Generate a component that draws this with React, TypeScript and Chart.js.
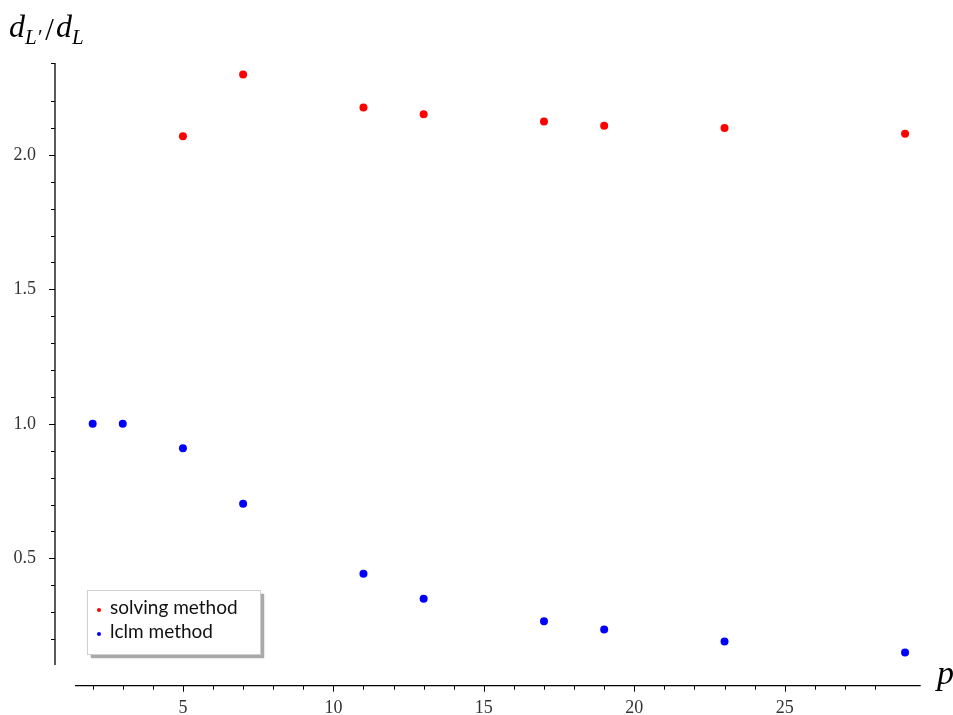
import React, { useEffect, useRef } from "react";
import { Chart, registerables } from "chart.js";

Chart.register(...registerables);

// ---- data ----
const solvingP = [5, 7, 11, 13, 17, 19, 23, 29];
const solvingRatio = [2.069, 2.299, 2.176, 2.151, 2.124, 2.108, 2.1, 2.079];
const lclmP = [2, 3, 5, 7, 11, 13, 17, 19, 23, 29];
const lclmRatio = [1.0, 1.0, 0.909, 0.703, 0.443, 0.35, 0.266, 0.235, 0.191, 0.15];
const seriesLabels = ["solving method", "lclm method"];
const seriesColors = ["#ff0000", "#0000ff"];
const xLabel = "p";

// ---- axis ranges (value units) ----
const X_MIN = 0.748;
const X_MAX = 29.53;
const Y_MIN = 0.0283;
const Y_MAX = 2.3416;
const X_LINE = [1.41, 29.52];
const Y_LINE = [0.103, 2.342];
const X_MAJOR = 5;
const Y_MAJOR = 0.5;

const serif = "'Liberation Serif', 'DejaVu Serif', serif";
const sans = "'Lato', 'Open Sans', sans-serif";

const isMultiple = (v: number, step: number) =>
  Math.abs(v / step - Math.round(v / step)) < 1e-6;

const axesPlugin = {
  id: "sageAxes",
  afterDraw(chart: any) {
    const ctx = chart.ctx;
    const xs = chart.scales.x;
    const ys = chart.scales.y;
    const ca = chart.chartArea;
    ctx.save();
    ctx.strokeStyle = "#000";
    ctx.lineWidth = 1.3;
    // y axis line
    const yx = ca.left;
    ctx.beginPath();
    ctx.moveTo(yx, ys.getPixelForValue(Y_LINE[0]));
    ctx.lineTo(yx, ys.getPixelForValue(Y_LINE[1]));
    ctx.stroke();
    // x axis line
    const xy = ca.bottom + 0.5;
    ctx.beginPath();
    ctx.moveTo(xs.getPixelForValue(X_LINE[0]), xy);
    ctx.lineTo(xs.getPixelForValue(X_LINE[1]), xy);
    ctx.stroke();
    ctx.lineWidth = 1;
    // y ticks
    for (const t of ys.ticks) {
      const v = t.value;
      if (v < Y_LINE[0] || v > Y_LINE[1]) continue;
      const major = isMultiple(v, Y_MAJOR);
      const len = major ? 6 : 4;
      const py = Math.round(ys.getPixelForValue(v)) + 0.5;
      ctx.beginPath();
      ctx.moveTo(yx - len, py);
      ctx.lineTo(yx, py);
      ctx.stroke();
    }
    // x ticks
    for (const t of xs.ticks) {
      const v = t.value;
      if (v < X_LINE[0] || v > X_LINE[1]) continue;
      const major = isMultiple(v, X_MAJOR);
      const len = major ? 6 : 4;
      const px = Math.round(xs.getPixelForValue(v)) + 0.5;
      ctx.beginPath();
      ctx.moveTo(px, xy);
      ctx.lineTo(px, xy + len);
      ctx.stroke();
    }
    // axis titles
    ctx.fillStyle = "#000";
    ctx.textBaseline = "alphabetic";
    ctx.textAlign = "left";
    // y title: d_{L'}/d_L
    let x = 9;
    const base = 37;
    ctx.font = `italic 32px ${serif}`;
    ctx.fillText("d", x, base);
    x += ctx.measureText("d").width;
    ctx.font = `italic 21px ${serif}`;
    ctx.fillText("L\u2032", x, base + 7);
    x += ctx.measureText("L\u2032").width + 4;
    ctx.font = `31px ${serif}`;
    ctx.fillText("/", x, base + 3);
    x += ctx.measureText("/").width + 2;
    ctx.font = `italic 32px ${serif}`;
    ctx.fillText("d", x, base);
    x += ctx.measureText("d").width;
    ctx.font = `italic 21px ${serif}`;
    ctx.fillText("L", x, base + 7);
    // x title
    ctx.font = `italic 34px ${serif}`;
    ctx.fillText(xLabel, 937, 684);
    ctx.restore();
  },
};

const legendPlugin = {
  id: "sageLegend",
  afterDraw(chart: any) {
    const ctx = chart.ctx;
    const bx = 87, by = 590, bw = 173, bh = 64;
    ctx.save();
    // shadow
    ctx.fillStyle = "#a9a9a9";
    ctx.shadowColor = "rgba(0,0,0,0.25)";
    ctx.shadowBlur = 2;
    ctx.fillRect(bx + 4, by + 4, bw, bh);
    ctx.shadowBlur = 0;
    ctx.shadowColor = "transparent";
    ctx.fillStyle = "#fff";
    ctx.fillRect(bx, by, bw, bh);
    ctx.strokeStyle = "#cfcfcf";
    ctx.lineWidth = 1;
    ctx.strokeRect(bx + 0.5, by + 0.5, bw, bh);
    chart.data.datasets.forEach((ds: any, i: number) => {
      const cy = by + 18 + i * 24;
      ctx.fillStyle = ds.backgroundColor;
      ctx.beginPath();
      ctx.arc(bx + 12, cy + 2, 2, 0, Math.PI * 2);
      ctx.fill();
      ctx.fillStyle = "#111";
      ctx.font = `19px ${sans}`;
      ctx.textBaseline = "middle";
      ctx.textAlign = "left";
      ctx.fillText(ds.label, bx + 23, cy);
    });
    ctx.restore();
  },
};

export default function App() {
  const ref = useRef<HTMLCanvasElement | null>(null);
  useEffect(() => {
    document.body.style.margin = "0";
    const canvas = ref.current;
    if (!canvas) return;
    const chart = new Chart(canvas, {
      type: "scatter",
      data: {
        datasets: [
          {
            label: seriesLabels[0],
            data: solvingP.map((p, i) => ({ x: p, y: solvingRatio[i] })),
            backgroundColor: seriesColors[0],
            borderColor: seriesColors[0],
            pointRadius: 4,
            pointHoverRadius: 4,
            borderWidth: 0,
          },
          {
            label: seriesLabels[1],
            data: lclmP.map((p, i) => ({ x: p, y: lclmRatio[i] })),
            backgroundColor: seriesColors[1],
            borderColor: seriesColors[1],
            pointRadius: 4,
            pointHoverRadius: 4,
            borderWidth: 0,
          },
        ],
      },
      options: {
        animation: false,
        responsive: true,
        maintainAspectRatio: false,
        layout: { padding: { top: 63, right: 32, bottom: 0, left: 0 } },
        plugins: { legend: { display: false }, tooltip: { enabled: false } },
        scales: {
          x: {
            type: "linear",
            min: X_MIN,
            max: X_MAX,
            grid: { display: false, drawTicks: false },
            border: { display: false },
            afterFit: (s: any) => {
              s.height = 29;
            },
            ticks: {
              stepSize: 1,
              autoSkip: false,
              maxRotation: 0,
              padding: 12,
              color: "#333",
              font: { family: serif, size: 18 },
              callback: (v: any) => (isMultiple(Number(v), X_MAJOR) ? String(Math.round(Number(v))) : ""),
            },
          },
          y: {
            type: "linear",
            min: Y_MIN,
            max: Y_MAX,
            grid: { display: false, drawTicks: false },
            border: { display: false },
            afterFit: (s: any) => {
              s.width = 55;
            },
            ticks: {
              stepSize: 0.1,
              autoSkip: false,
              padding: 19,
              color: "#333",
              font: { family: serif, size: 18 },
              callback: (v: any) => (isMultiple(Number(v), Y_MAJOR) ? Number(v).toFixed(1) : ""),
            },
          },
        },
      },
      plugins: [axesPlugin, legendPlugin],
    });
    return () => chart.destroy();
  }, []);
  return (
    <div style={{ width: 953, height: 715, position: "relative" }}>
      <canvas ref={ref} />
    </div>
  );
}
